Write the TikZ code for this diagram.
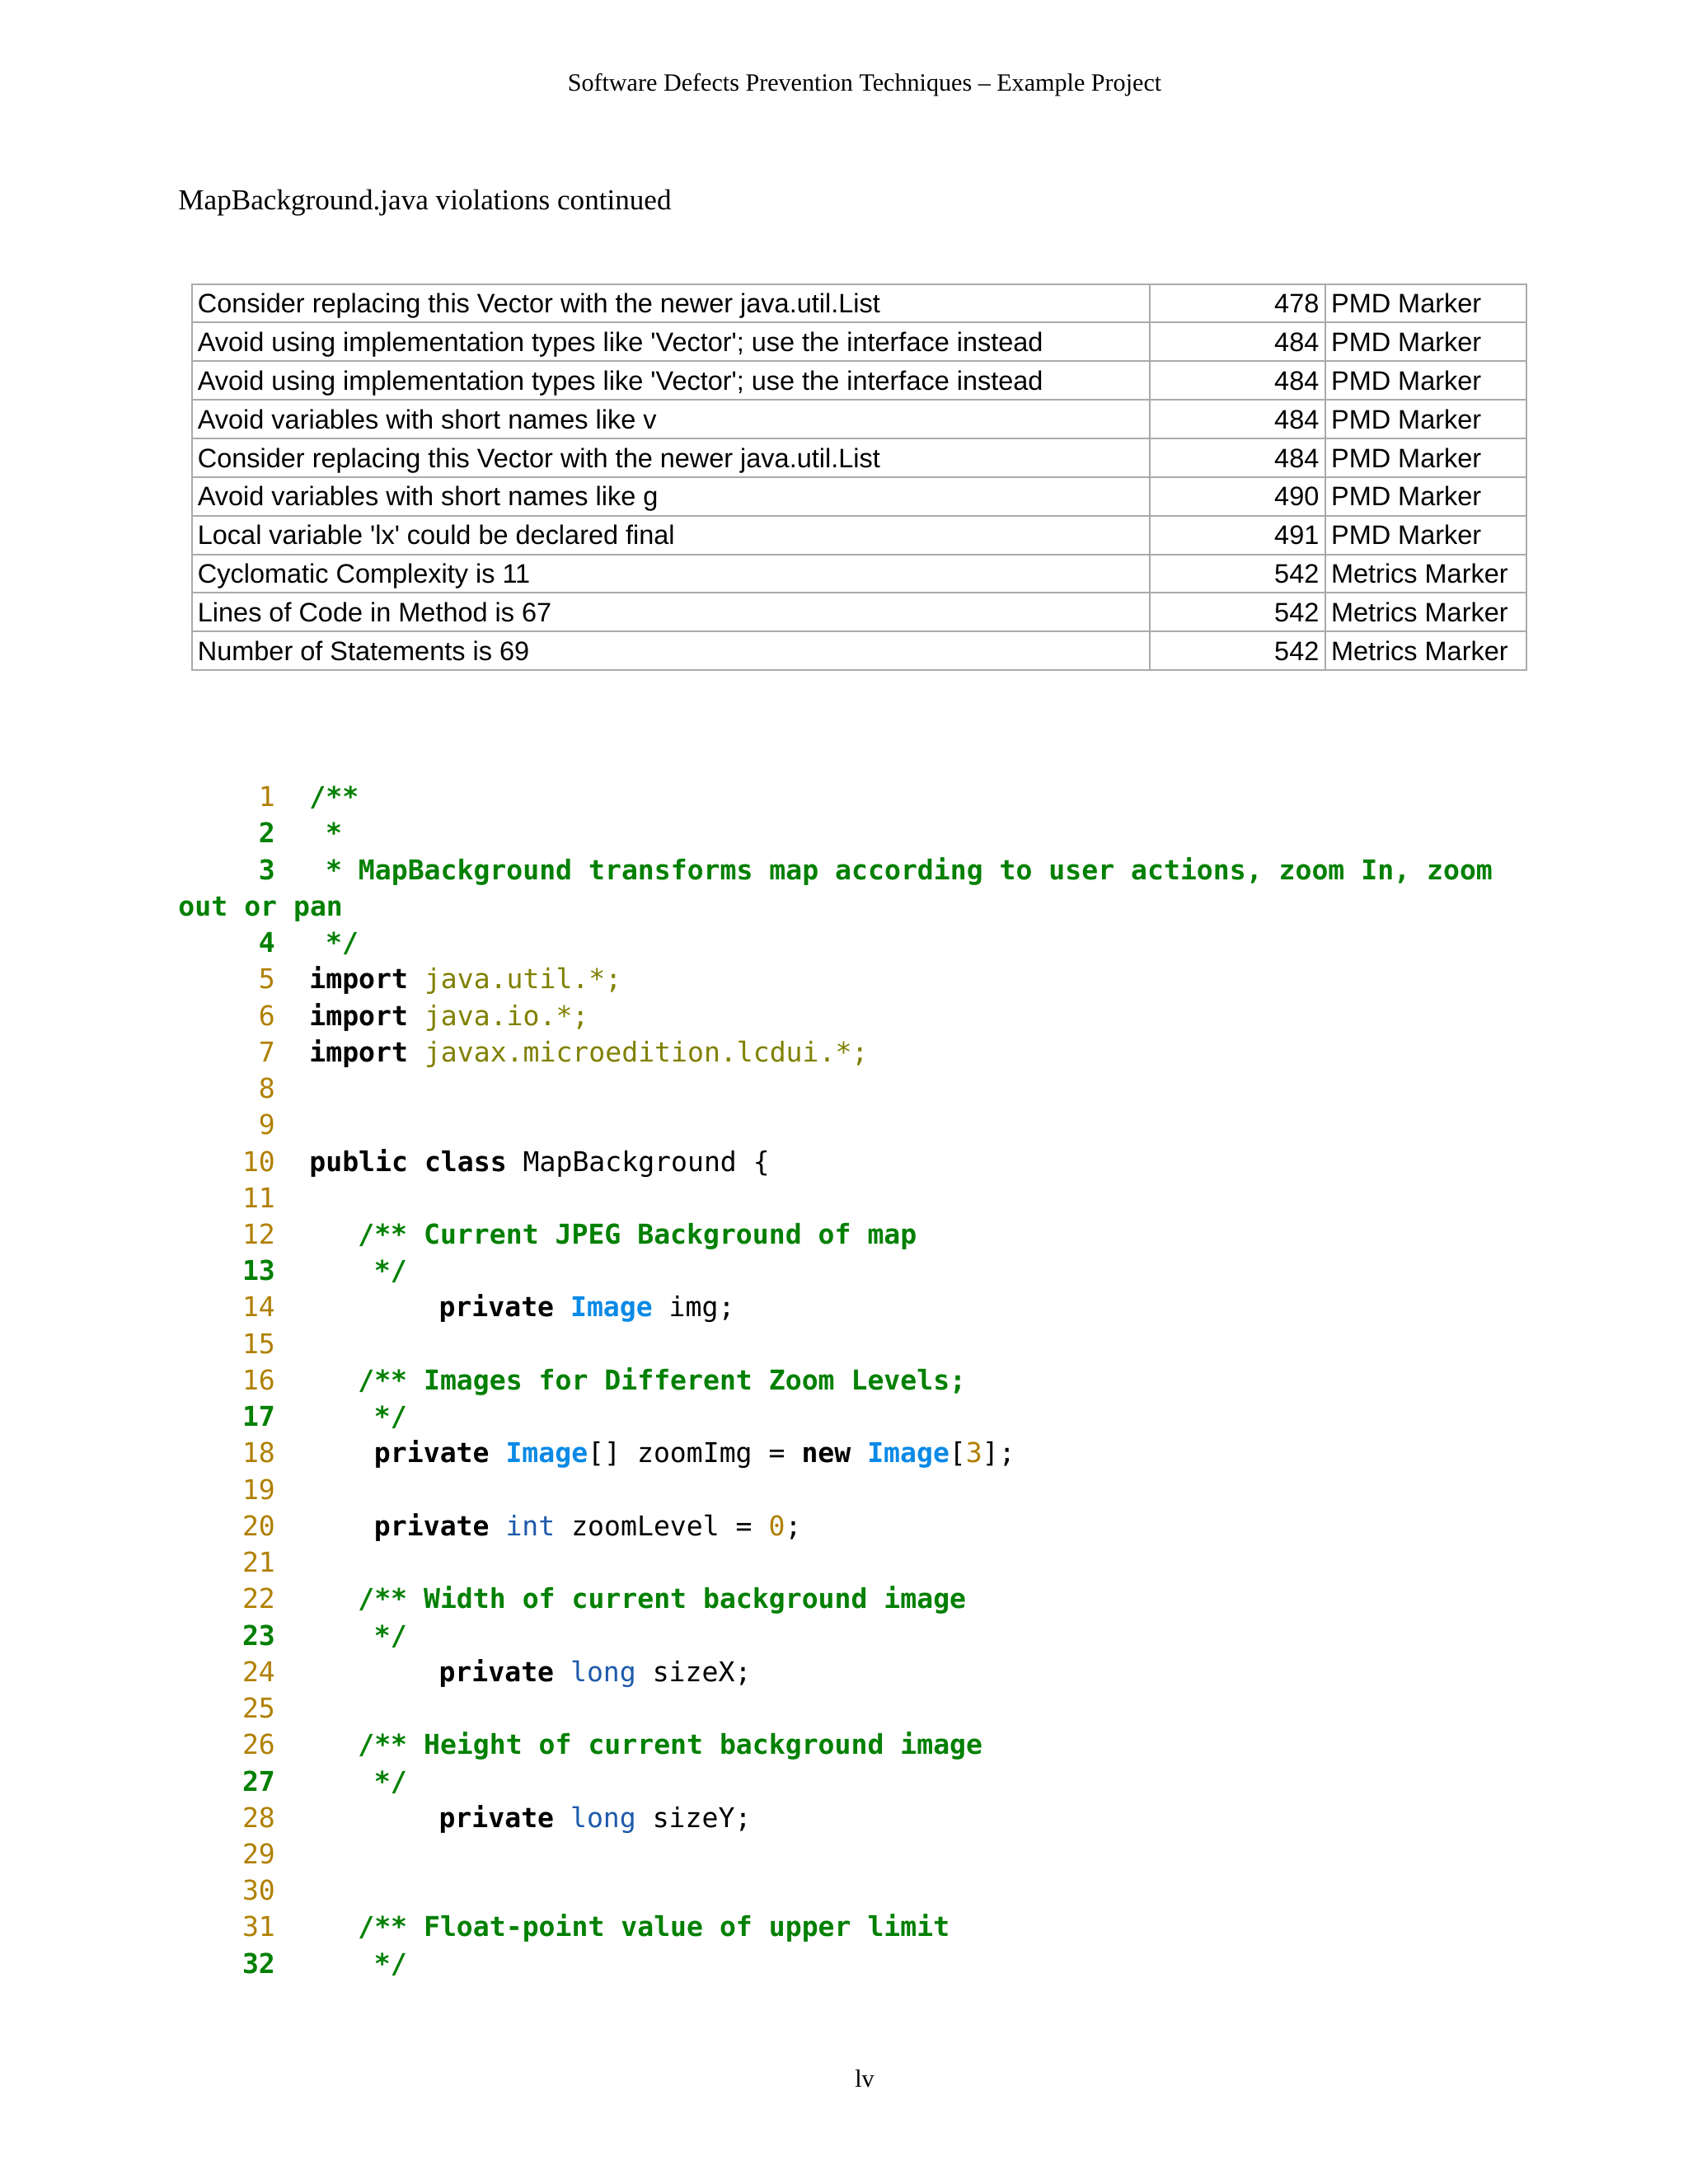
\documentclass[tikz,border=0pt]{standalone}
\usepackage{fontspec}
\setmainfont{Liberation Serif}
\newfontfamily\tabf{Liberation Sans}
\newfontfamily\cmono{DejaVu Sans Mono}
\definecolor{cgreen}{RGB}{0,128,0}
\definecolor{cnum}{RGB}{176,128,0}
\definecolor{colive}{RGB}{128,128,0}
\definecolor{ctype}{RGB}{10,138,230}
\definecolor{ckw}{RGB}{30,90,170}
\definecolor{cgrid}{RGB}{170,170,170}
\newcommand\cm[1]{\textcolor{cgreen}{\bfseries #1}}
\newcommand\kw[1]{{\bfseries #1}}
\newcommand\ol[1]{\textcolor{colive}{#1}}
\newcommand\ty[1]{\textcolor{ctype}{\bfseries #1}}
\newcommand\tk[1]{\textcolor{ckw}{#1}}
\newcommand\nm[1]{\textcolor{cnum}{#1}}
\begin{document}
\begin{tikzpicture}[x=0.5pt,y=-0.5pt,
  code/.style={anchor=base west,inner sep=0pt,font=\cmono\fontsize{9.9}{11}\selectfont},
  lnum/.style={anchor=base east,inner sep=0pt,font=\cmono\fontsize{9.9}{11}\selectfont},
  cell/.style={anchor=base west,inner sep=0pt,font=\tabf\fontsize{9.7}{12}\selectfont},
  celr/.style={anchor=base east,inner sep=0pt,font=\tabf\fontsize{9.7}{12}\selectfont}]
\fill[white] (0,0) rectangle (1224,1584);
\useasboundingbox (0,0) rectangle (1224,1584);
\node[anchor=base,inner sep=0pt,font=\fontsize{9}{11}\selectfont] (hdr) at (627,66) {Software Defects Prevention Techniques – Example Project};
\node[anchor=base west,inner sep=0pt,font=\fontsize{10.5}{12}\selectfont] (title) at (129,152) {MapBackground.java violations continued};
\node[anchor=base,inner sep=0pt,font=\fontsize{9}{11}\selectfont] (pg) at (627,1514) {lv};
% table
\draw[cgrid,line width=0.6pt] (139,206) rectangle (1107,486);
\foreach \i in {1,...,9} \draw[cgrid,line width=0.6pt] (139,206+28*\i) -- (1107,206+28*\i);
\draw[cgrid,line width=0.6pt] (834,206) -- (834,486);
\draw[cgrid,line width=0.6pt] (961,206) -- (961,486);
\newcommand\trow[4]{%
  \node[cell] (a#1) at (143,{206+28*#1+21}) {#2};
  \node[celr] (b#1) at (957,{206+28*#1+21}) {#3};
  \node[cell] (c#1) at (965,{206+28*#1+21}) {#4};}
\trow{0}{Consider replacing this Vector with the newer java.util.List}{478}{PMD Marker}
\trow{1}{Avoid using implementation types like 'Vector'; use the interface instead}{484}{PMD Marker}
\trow{2}{Avoid using implementation types like 'Vector'; use the interface instead}{484}{PMD Marker}
\trow{3}{Avoid variables with short names like v}{484}{PMD Marker}
\trow{4}{Consider replacing this Vector with the newer java.util.List}{484}{PMD Marker}
\trow{5}{Avoid variables with short names like g}{490}{PMD Marker}
\trow{6}{Local variable 'lx' could be declared final}{491}{PMD Marker}
\trow{7}{Cyclomatic Complexity is 11}{542}{Metrics Marker}
\trow{8}{Lines of Code in Method is 67}{542}{Metrics Marker}
\trow{9}{Number of Statements is 69}{542}{Metrics Marker}
% code
\newcommand\cl[4]{% row, number label, indent chars, content
  \node[lnum] (n#1) at (200,{585+26.44*#1}) {#2};
  \node[code] (l#1) at ({224+11.74*#3},{585+26.44*#1}) {#4};}
\newcommand\G[1]{\cm{#1}}
\newcommand\N[1]{\nm{#1}}
\cl{0}{\N{1}}{0}{\cm{/**}}
\cl{1}{\G{2}}{1}{\cm{*}}
\cl{2}{\G{3}}{1}{\cm{* MapBackground transforms map according to user actions, zoom In, zoom}}
\node[code] (wrap) at (129,{585+26.44*3}) {\cm{out or pan}};
\cl{4}{\G{4}}{1}{\cm{*/}}
\cl{5}{\N{5}}{0}{\kw{import} \ol{java.util.*;}}
\cl{6}{\N{6}}{0}{\kw{import} \ol{java.io.*;}}
\cl{7}{\N{7}}{0}{\kw{import} \ol{javax.microedition.lcdui.*;}}
\cl{8}{\N{8}}{0}{}
\cl{9}{\N{9}}{0}{}
\cl{10}{\N{10}}{0}{\kw{public} \kw{class} MapBackground \{}
\cl{11}{\N{11}}{0}{}
\cl{12}{\N{12}}{3}{\cm{/** Current JPEG Background of map}}
\cl{13}{\G{13}}{4}{\cm{*/}}
\cl{14}{\N{14}}{8}{\kw{private} \ty{Image} img;}
\cl{15}{\N{15}}{0}{}
\cl{16}{\N{16}}{3}{\cm{/** Images for Different Zoom Levels;}}
\cl{17}{\G{17}}{4}{\cm{*/}}
\cl{18}{\N{18}}{4}{\kw{private} \ty{Image}[] zoomImg = \kw{new} \ty{Image}[\nm{3}];}
\cl{19}{\N{19}}{0}{}
\cl{20}{\N{20}}{4}{\kw{private} \tk{int} zoomLevel = \nm{0};}
\cl{21}{\N{21}}{0}{}
\cl{22}{\N{22}}{3}{\cm{/** Width of current background image}}
\cl{23}{\G{23}}{4}{\cm{*/}}
\cl{24}{\N{24}}{8}{\kw{private} \tk{long} sizeX;}
\cl{25}{\N{25}}{0}{}
\cl{26}{\N{26}}{3}{\cm{/** Height of current background image}}
\cl{27}{\G{27}}{4}{\cm{*/}}
\cl{28}{\N{28}}{8}{\kw{private} \tk{long} sizeY;}
\cl{29}{\N{29}}{0}{}
\cl{30}{\N{30}}{0}{}
\cl{31}{\N{31}}{3}{\cm{/** Float-point value of upper limit}}
\cl{32}{\G{32}}{4}{\cm{*/}}
\end{tikzpicture}
\end{document}
